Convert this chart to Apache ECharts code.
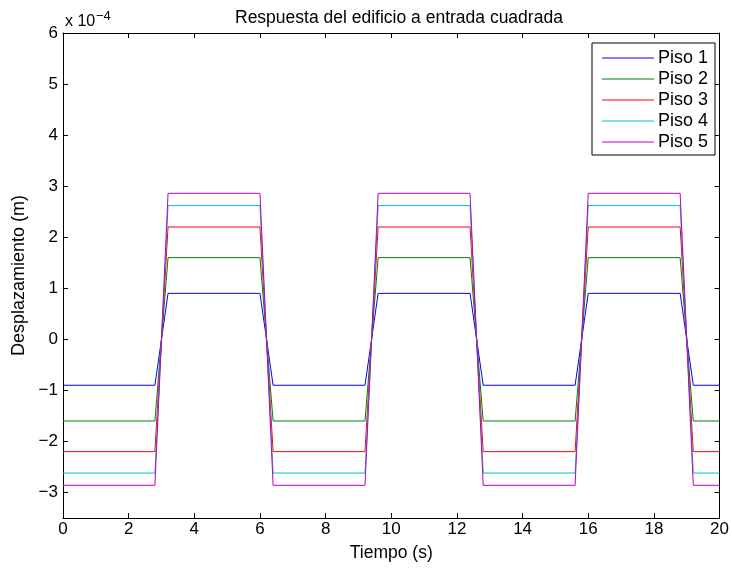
<!DOCTYPE html>
<html>
<head>
<meta charset="utf-8">
<script src="https://cdn.jsdelivr.net/npm/echarts@6/dist/echarts.min.js"></script>
<style>html,body{margin:0;padding:0;background:#fff}#c{width:732px;height:568px}</style>
</head>
<body>
<div id="c"></div>
<script>
// time samples (s)
var tiempo = [0, 2.8, 3.2, 6.0, 6.4, 9.2, 9.6, 12.4, 12.8, 15.6, 16.0, 18.8, 19.2, 20];
// displacements in units of 1e-4 m
var piso1 = [-0.90, -0.90, 0.90, 0.90, -0.90, -0.90, 0.90, 0.90, -0.90, -0.90, 0.90, 0.90, -0.90, -0.90];
var piso2 = [-1.60, -1.60, 1.60, 1.60, -1.60, -1.60, 1.60, 1.60, -1.60, -1.60, 1.60, 1.60, -1.60, -1.60];
var piso3 = [-2.20, -2.20, 2.20, 2.20, -2.20, -2.20, 2.20, 2.20, -2.20, -2.20, 2.20, 2.20, -2.20, -2.20];
var piso4 = [-2.62, -2.62, 2.62, 2.62, -2.62, -2.62, 2.62, 2.62, -2.62, -2.62, 2.62, 2.62, -2.62, -2.62];
var piso5 = [-2.86, -2.86, 2.86, 2.86, -2.86, -2.86, 2.86, 2.86, -2.86, -2.86, 2.86, 2.86, -2.86, -2.86];
var seriesNames = ['Piso 1', 'Piso 2', 'Piso 3', 'Piso 4', 'Piso 5'];
var seriesColors = ['#0000ff', '#008000', '#ff0000', '#00bfbf', '#bf00bf'];
var xTicks = [0, 2, 4, 6, 8, 10, 12, 14, 16, 18, 20];
var yTicks = [-3, -2, -1, 0, 1, 2, 3, 4, 5, 6];

var allValues = [piso1, piso2, piso3, piso4, piso5];
function pairs(v) { return tiempo.map(function (t, i) { return [t, v[i]]; }); }
var FONT = 'Liberation Sans, Arial, Helvetica, sans-serif';
var NFONT = 'Liberation Sans Narrow, Arial Narrow, Liberation Sans, sans-serif';
function fmt(v) { return String(v).replace('-', '\u2212'); }

var chart = echarts.init(document.getElementById('c'), null, { renderer: 'canvas' });
var tickStyle = { show: true, inside: true, length: 5, lineStyle: { color: '#000', width: 1 } };
var lineStyle = { show: true, onZero: false, lineStyle: { color: '#000', width: 1 } };
chart.setOption({
  animation: false,
  backgroundColor: '#fff',
  title: {
    text: 'Respuesta del edificio a entrada cuadrada',
    left: 230, top: 4,
    textStyle: { fontFamily: FONT, fontSize: 17.5, fontWeight: 'normal', color: '#000' }
  },
  legend: {
    orient: 'vertical', left: 592, top: 43,
    backgroundColor: '#fff', borderColor: '#000', borderWidth: 1,
    padding: [6, 7, 4, 10], itemWidth: 52, itemHeight: 1, itemGap: 3,
    icon: 'rect',
    textStyle: { fontFamily: FONT, fontSize: 18, lineHeight: 18, color: '#000', padding: [0, 0, 0, -1] },
    data: seriesNames
  },
  grid: { left: 63, right: 10, top: 33, bottom: 50, containLabel: false },
  graphic: [
    { type: 'text', x: 65, y: 30, style: {
      text: 'x 10', fontFamily: FONT, fontSize: 16, fill: '#000', verticalAlign: 'bottom' } },
    { type: 'text', x: 96, y: 23, style: {
      text: '\u22124', fontFamily: FONT, fontSize: 13, fill: '#000', verticalAlign: 'bottom' } }
  ],
  xAxis: [
    { type: 'value', min: 0, max: 20, position: 'bottom',
      name: 'Tiempo (s)', nameLocation: 'middle', nameGap: 26,
      nameTextStyle: { fontFamily: FONT, fontSize: 17.5, color: '#000' },
      axisLine: lineStyle,
      axisTick: Object.assign({ customValues: xTicks }, tickStyle),
      axisLabel: { customValues: xTicks, formatter: fmt, fontFamily: NFONT, fontSize: 17, color: '#000', margin: 3 },
      splitLine: { show: false } },
    { type: 'value', min: 0, max: 20, position: 'top',
      axisLine: lineStyle,
      axisTick: Object.assign({ customValues: xTicks }, tickStyle),
      axisLabel: { show: false }, splitLine: { show: false } }
  ],
  yAxis: [
    { type: 'value', min: -3.5, max: 6, position: 'left',
      name: 'Desplazamiento (m)', nameLocation: 'middle', nameGap: 30,
      nameTextStyle: { fontFamily: FONT, fontSize: 18, color: '#000' },
      axisLine: lineStyle,
      axisTick: Object.assign({ customValues: yTicks }, tickStyle),
      axisLabel: { customValues: yTicks, formatter: fmt, fontFamily: NFONT, fontSize: 17, color: '#000', margin: 5 },
      splitLine: { show: false } },
    { type: 'value', min: -3.5, max: 6, position: 'right',
      axisLine: lineStyle,
      axisTick: Object.assign({ customValues: yTicks }, tickStyle),
      axisLabel: { show: false }, splitLine: { show: false } }
  ],
  series: seriesNames.map(function (n, i) {
    return {
      name: n, type: 'line', data: pairs(allValues[i]),
      symbol: 'none', showSymbol: false,
      color: seriesColors[i],
      lineStyle: { color: seriesColors[i], width: 1 },
      xAxisIndex: 0, yAxisIndex: 0
    };
  })
});
</script>
</body>
</html>
